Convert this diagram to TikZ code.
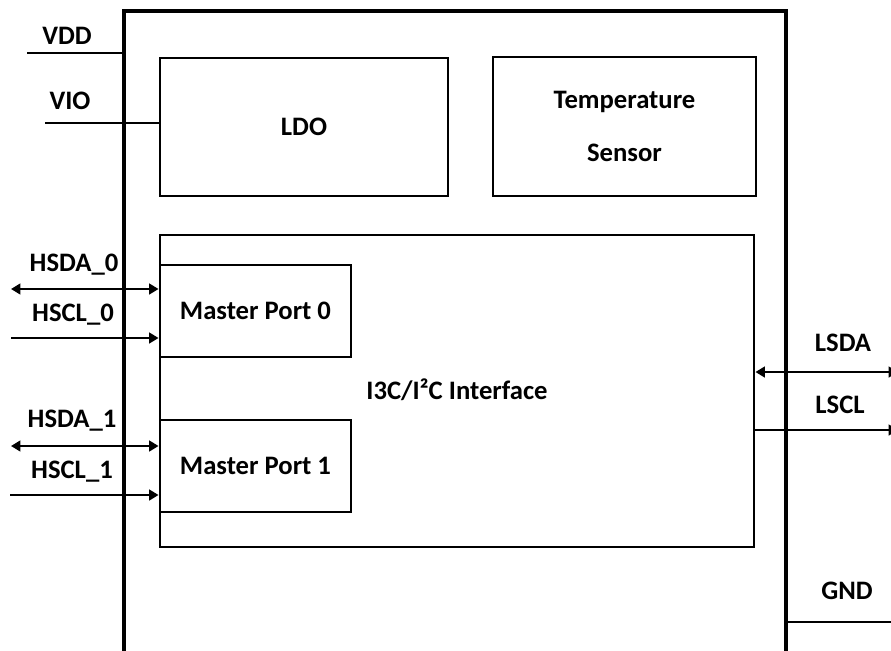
\documentclass[tikz,border=0pt]{standalone}
\usepackage{fontspec}
\setmainfont{Carlito}
\usetikzlibrary{arrows.meta}
\begin{document}
\begin{tikzpicture}[x=0.75pt,y=-0.75pt,
  blk/.style={draw,line width=2.2pt,inner sep=0pt,font=\bfseries\fontsize{20}{24}\selectfont},
  lbl/.style={font=\bfseries\fontsize{20}{24}\selectfont,inner sep=0pt},
  sig/.style={line width=1.6pt},
  tip/.style={-{Triangle[length=7pt,width=8pt]}},
  dtip/.style={{Triangle[length=7pt,width=8pt]}-{Triangle[length=7pt,width=8pt]}}]
\useasboundingbox (0,0) rectangle (891,650);
% outer chip outline (open at the bottom)
\draw[line width=2.4pt] (124,652) -- (124,11) -- (786,11) -- (786,652);
\coordinate (chipL) at (124,11);
\coordinate (chipR) at (786,11);
% blocks
\node[blk,minimum width=0.75*288pt,minimum height=0.75*138pt] (ldo) at (304,127) {LDO};
\node[blk,minimum width=0.75*263pt,minimum height=0.75*139pt,align=center] (temp) at (624.5,126.5)
  {Temperature\\[16pt]Sensor};
\node[blk,minimum width=0.75*594pt,minimum height=0.75*312pt] (if) at (457,391) {};
\node[lbl] (iflbl) at (457,390) {I3C/I²C Interface};
\node[blk,minimum width=0.75*191pt,minimum height=0.75*92pt,fill=white] (mp0) at (255.5,311) {Master Port 0};
\node[blk,minimum width=0.75*191pt,minimum height=0.75*92pt,fill=white] (mp1) at (255.5,466) {Master Port 1};
% supply pins
\coordinate (vddE) at (27,53);
\draw[sig] (vddE) -- (chipL |- vddE);
\node[lbl] (vdd) at (67,36) {VDD};
\coordinate (vioE) at (45,123);
\draw[sig] (vioE) -- (ldo.west |- vioE);
\node[lbl] (vio) at (70,101) {VIO};
% host side
\coordinate (hsda0E) at (11,289);
\draw[sig,dtip] (hsda0E) -- (mp0.west |- hsda0E);
\node[lbl] (hsda0) at (74,265) {HSDA\_0};
\coordinate (hscl0E) at (11,338);
\draw[sig,tip] (hscl0E) -- (mp0.west |- hscl0E);
\node[lbl] (hscl0) at (73,315) {HSCL\_0};
\coordinate (hsda1E) at (11,446);
\draw[sig,dtip] (hsda1E) -- (mp1.west |- hsda1E);
\node[lbl] (hsda1) at (72,421) {HSDA\_1};
\coordinate (hscl1E) at (10,495);
\draw[sig,tip] (hscl1E) -- (mp1.west |- hscl1E);
\node[lbl] (hscl1) at (72,472) {HSCL\_1};
% local side
\coordinate (lsdaE) at (898,372);
\draw[sig,dtip] (if.east |- lsdaE) -- (lsdaE);
\node[lbl] (lsda) at (843,343) {LSDA};
\coordinate (lsclE) at (898,430);
\draw[sig,tip] (if.east |- lsclE) -- (lsclE);
\node[lbl] (lscl) at (840,405) {LSCL};
% ground
\coordinate (gndE) at (891,622);
\draw[sig] (chipR |- gndE) -- (gndE);
\node[lbl] (gnd) at (847,591) {GND};
\end{tikzpicture}
\end{document}
